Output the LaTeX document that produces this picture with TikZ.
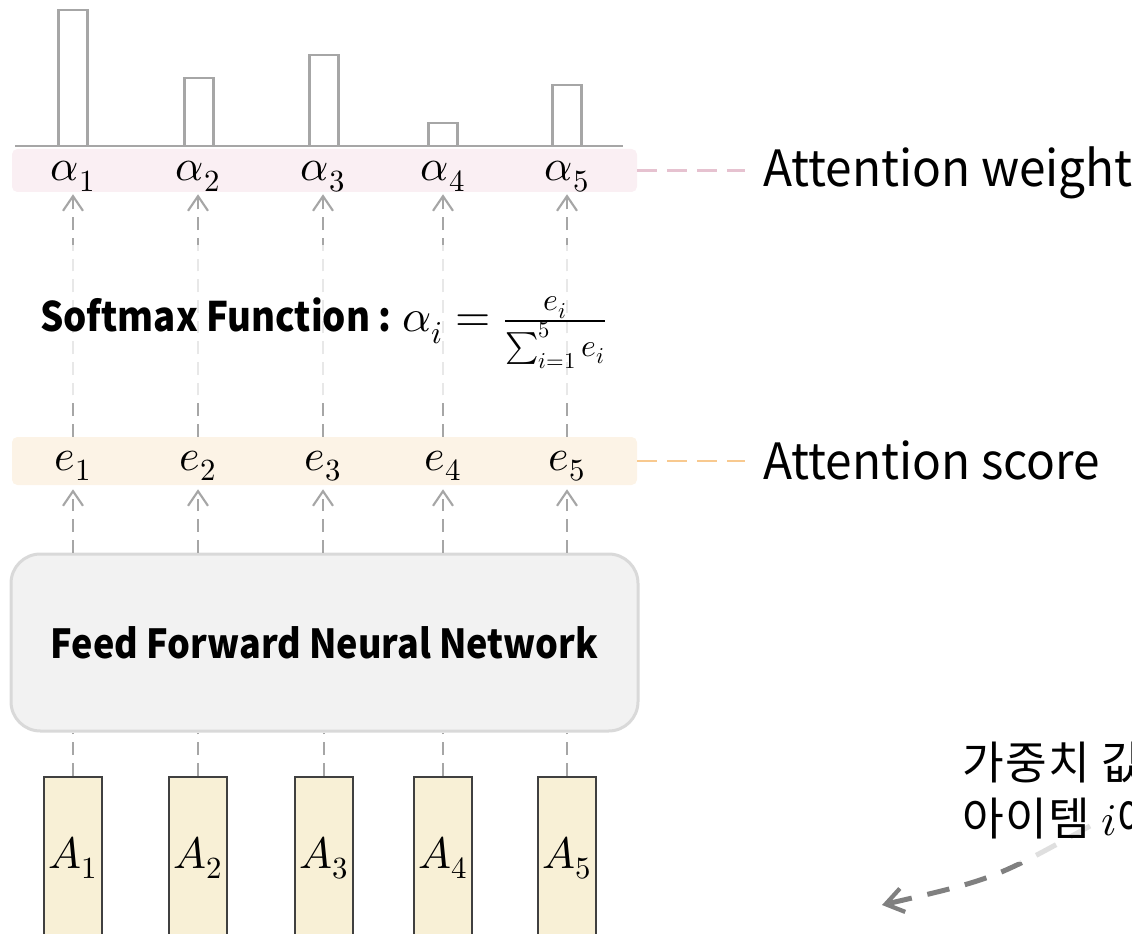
\documentclass[tikz,border=0pt]{standalone}
\usepackage{fontspec}
\usepackage{unicode-math}
\setmainfont{Noto Sans CJK KR}
\newfontfamily\capfont{Noto Sans CJK KR}[FakeStretch=0.955]
\newfontfamily\headfont{Noto Sans CJK KR}[FakeStretch=0.9]
\newfontfamily\notefont{Noto Sans CJK KR}[LetterSpace=3]
\usetikzlibrary{arrows.meta}

\definecolor{barGray}{HTML}{A6A6A6}
\definecolor{bandPink}{HTML}{FAEFF3}
\definecolor{bandOrange}{HTML}{FCF3E6}
\definecolor{linePink}{HTML}{E6C2D0}
\definecolor{lineOrange}{HTML}{F8C98F}
\definecolor{ffnnFill}{HTML}{F2F2F2}
\definecolor{ffnnLine}{HTML}{D9D9D9}
\definecolor{itemFill}{HTML}{F8F0D6}
\definecolor{itemLine}{HTML}{404040}
\definecolor{noteGray}{HTML}{808080}

\begin{document}
\begin{tikzpicture}[x=0.75pt,y=-0.75pt,
  mathlbl/.style={font=\fontsize{33}{40}\selectfont, inner sep=0pt, anchor=base},
  band/.style={rounded corners=4pt, draw=none, inner sep=0pt},
  bar/.style={draw=barGray, line width=2.2pt},
  flow/.style={draw=barGray, line width=1.8pt, dash pattern=on 9.5pt off 6pt},
  flowarrow/.style={flow, -{Straight Barb[length=11pt,width=15pt,line width=1.6pt]}},
  keydash/.style={line width=1.6pt, dash pattern=on 15pt off 7.5pt},
  sidelbl/.style={font=\capfont\fontsize{37.5}{44}\selectfont, inner sep=0pt, anchor=base west},
  itembox/.style={draw=itemLine, fill=itemFill, line width=1.9pt, minimum width=43.5pt, minimum height=129.75pt, inner sep=0pt},
  veil/.style={fill=white, fill opacity=0.75, draw=none, inner sep=0pt},
  notetext/.style={font=\notefont\fontsize{34}{40}\selectfont, inner sep=0pt, anchor=base west},
  notearrow/.style={draw=noteGray, line width=3.75pt, dash pattern=on 17pt off 12pt,
    -{Straight Barb[length=13pt,width=18pt,line width=3.2pt]}}
]
\useasboundingbox (0,0) rectangle (1132,934);
\clip (0,0) rectangle (1132,934);

% coloured bands behind the score and weight rows
\node[band, fill=bandPink, minimum width=468.75pt, minimum height=32.25pt] (alphaBand) at (324.5,170.5) {};
\node[band, fill=bandOrange, minimum width=468.75pt, minimum height=36pt] (eBand) at (324.5,461) {};

% bar chart of the attention weights
\draw[bar] (58.5,146) rectangle (87.5,10);
\draw[bar] (184.5,146) rectangle (213.5,78);
\draw[bar] (309.5,146) rectangle (338.5,55);
\draw[bar] (428.5,146) rectangle (457.5,123);
\draw[bar] (552.5,146) rectangle (581.5,85);
\draw[bar] (15,146) -- (623,146);

% weight and score labels
\foreach \i/\x in {1/73,2/198,3/323,4/443,5/567}{
  \node[mathlbl] (a\i) at (\x,181) {$\alpha_{\i}$};
  \node[mathlbl] (e\i) at (\x,470) {$e_{\i}$};
}

% feed forward network
\node[draw=ffnnLine, fill=ffnnFill, line width=2.25pt, rounded corners=22pt,
  minimum width=470.25pt, minimum height=132.75pt, inner sep=0pt,
  font=\headfont\bfseries\fontsize{30}{36}\selectfont] (ffnn) at (324.5,642.5) {Feed Forward Neural Network};

% input items
\foreach \i/\x in {1/73,2/198,3/324,4/443,5/567}{
  \node[itembox] (A\i) at (\x,863.5) {};
  \node[mathlbl] (A\i l) at (\x,868) {$A_{\i}$};
}

% flow between the layers
\foreach \i in {1,...,5}{
  \draw[flow] (A\i.north) -- (A\i.north |- ffnn.south);
  \draw[flowarrow, shorten >=3pt] (e\i |- ffnn.north) -- (e\i |- eBand.south);
  \draw[flowarrow, shorten >=1.5pt] (e\i |- eBand.north) -- (a\i |- alphaBand.south);
}

% softmax formula over the connectors
\node[veil, minimum width=442pt, minimum height=114pt] (softVeil) at (324,321) {};
\node[inner sep=0pt, anchor=base, font=\headfont\bfseries\fontsize{30.5}{38}\selectfont] (soft) at (323.5,332)
  {Softmax Function :\;{\fontsize{34}{40}\selectfont$\alpha_i = \frac{e_i}{\sum_{i=1}^{5} e_i}$}};

% row captions
\node[sidelbl] (attw) at (763,187) {Attention weight};
\node[sidelbl] (atts) at (763,479) {Attention score};
\draw[keydash, draw=linePink] (alphaBand.east) -- (alphaBand.east -| 745,0);
\draw[keydash, draw=lineOrange] (eBand.east) -- (eBand.east -| 745,0);

% note with curved pointer
\coordinate (noteStart) at (1090,826);
\coordinate (noteTip) at (882,905);
\draw[notearrow] (noteStart) .. controls (994,879) .. (noteTip);
\node[veil, minimum width=150pt, minimum height=95pt, anchor=north west] (noteVeil) at (950,735) {};
\node[notetext] (note1) at (962,779) {가중치 값};
\node[notetext] (note2) at (962,835) {아이템 $i$에};
\end{tikzpicture}
\end{document}
